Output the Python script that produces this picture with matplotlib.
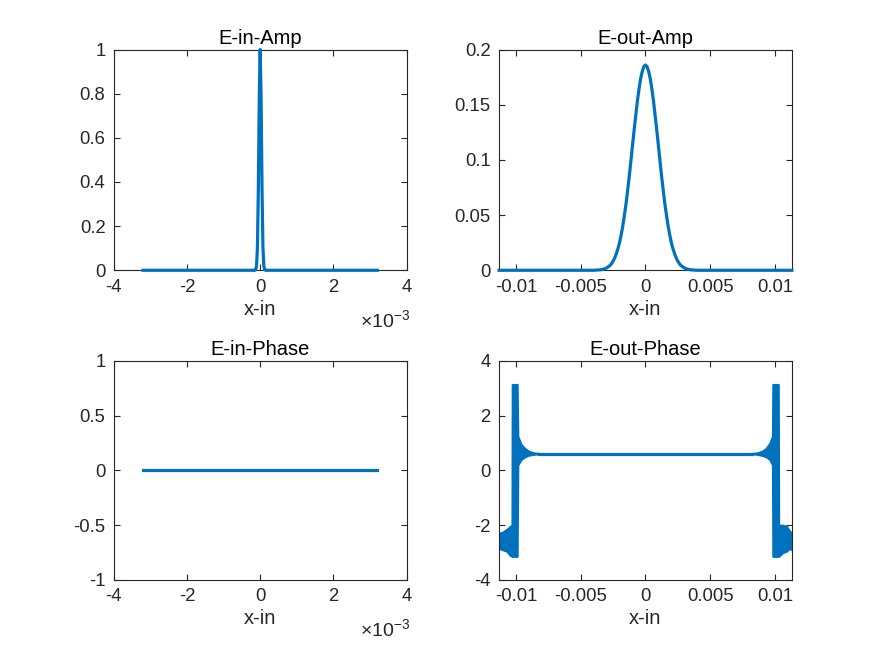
import matplotlib
matplotlib.use("Agg")
import matplotlib.pyplot as plt
import numpy as np

plt.rcParams["font.family"] = ["Liberation Sans", "DejaVu Sans"]
plt.rcParams["mathtext.fontset"] = "custom"
plt.rcParams["mathtext.rm"] = "Liberation Sans"
plt.rcParams["mathtext.it"] = "Liberation Sans"
plt.rcParams["axes.unicode_minus"] = False

BLUE = "#0072BD"
DARK = "#262626"

# input amplitude (x in units of 1e-3)
x_in = [-3.2, -0.15, -0.125, -0.1, -0.075, -0.05, -0.025, 0.0,
        0.025, 0.05, 0.075, 0.1, 0.125, 0.15, 3.2]
amp_in = [0.0, 0.0, 0.002, 0.018, 0.105, 0.37, 0.78, 1.0,
          0.78, 0.37, 0.105, 0.018, 0.002, 0.0, 0.0]

# input phase is flat zero
x_in_phase = [-3.2, 3.2]
phase_in = [0.0, 0.0]

# output amplitude, right half (x in units of 1e-3), mirrored for the left half
x_out_half = [0.0, 0.125, 0.25, 0.375, 0.5, 0.625, 0.75, 0.875, 1.0, 1.125,
              1.25, 1.375, 1.5, 1.625, 1.75, 1.875, 2.0, 2.125, 2.25, 2.375,
              2.5, 2.625, 2.75, 3.0, 3.25, 3.5, 4.0, 11.3]
amp_out_half = [0.186, 0.1845, 0.180, 0.1734, 0.164, 0.153, 0.140, 0.1269,
                0.113, 0.0988, 0.085, 0.0723, 0.060, 0.0497, 0.040, 0.0321,
                0.025, 0.0195, 0.015, 0.0111, 0.0082, 0.0059, 0.0042, 0.0021,
                0.00095, 0.0004, 0.0, 0.0]

# output phase: flat middle part
x_flat = [-8.2, 8.2]
phase_flat = [0.615, 0.615]

# output phase: noisy band envelopes near the edges (x in units of 1e-3)
x_left = [-11.3, -11.0, -10.7, -10.45, -10.3, -10.28, -9.9, -9.85,
          -9.6, -9.3, -9.0, -8.6, -8.2]
up_left = [-2.3, -2.25, -2.15, -2.05, -2.0, 3.14, 3.14, 1.25,
           0.95, 0.8, 0.7, 0.64, 0.62]
lo_left = [-2.85, -2.9, -2.95, -3.1, -3.14, -3.14, -3.14, 0.2,
           0.4, 0.5, 0.56, 0.59, 0.61]
x_right = [8.2, 8.6, 9.0, 9.3, 9.6, 9.8, 9.83, 10.25,
           10.28, 10.6, 10.9, 11.1, 11.3]
up_right = [0.62, 0.64, 0.7, 0.8, 1.0, 1.25, 3.14, 3.14,
            -2.0, -2.0, -2.05, -2.2, -2.3]
lo_right = [0.61, 0.59, 0.55, 0.5, 0.4, 0.2, -3.14, -3.14,
            -3.14, -3.0, -2.95, -2.85, -2.9]

fig = plt.figure(figsize=(8.75, 6.56), dpi=100)
positions = [[0.13, 0.588, 0.3347, 0.3365], [0.5703, 0.588, 0.3347, 0.3365],
             [0.13, 0.116, 0.3347, 0.3338], [0.5703, 0.116, 0.3347, 0.3338]]
axes = [fig.add_axes(p) for p in positions]


def style(ax, title):
    ax.set_title(title, fontsize=14.5, color="black", pad=4)
    ax.set_xlabel("x-in", fontsize=14.5, color=DARK, labelpad=3)
    ax.tick_params(direction="in", length=4, width=0.8, top=True, right=True,
                   labelsize=13.3, colors=DARK, pad=6)
    for s in ax.spines.values():
        s.set_color(DARK)
        s.set_linewidth(0.8)


def sci_label(ax):
    ax.text(1.012, -0.225, r"$\times10^{-3}$", transform=ax.transAxes,
            ha="right", va="center", fontsize=14, color=DARK)


# E-in-Amp
ax = axes[0]
ax.plot(np.array(x_in) * 1e-3, amp_in, color=BLUE, lw=2.3, clip_on=False, zorder=3)
ax.set_xlim(-4e-3, 4e-3)
ax.set_ylim(0, 1)
ax.set_xticks([-4e-3, -2e-3, 0, 2e-3, 4e-3])
ax.set_xticklabels(["-4", "-2", "0", "2", "4"])
ax.set_yticks([0, 0.2, 0.4, 0.6, 0.8, 1])
ax.set_yticklabels(["0", "0.2", "0.4", "0.6", "0.8", "1"])
style(ax, "E-in-Amp")
sci_label(ax)

# E-out-Amp
ax = axes[1]
xh = np.array(x_out_half) * 1e-3
x_out = np.concatenate([-xh[::-1], xh[1:]])
amp_out = np.concatenate([amp_out_half[::-1], amp_out_half[1:]])
ax.plot(x_out, amp_out, color=BLUE, lw=2.3, clip_on=False, zorder=3)
ax.set_xlim(-0.0113, 0.0113)
ax.set_ylim(0, 0.2)
ax.set_xticks([-0.01, -0.005, 0, 0.005, 0.01])
ax.set_xticklabels(["-0.01", "-0.005", "0", "0.005", "0.01"])
ax.set_yticks([0, 0.05, 0.1, 0.15, 0.2])
ax.set_yticklabels(["0", "0.05", "0.1", "0.15", "0.2"])
style(ax, "E-out-Amp")

# E-in-Phase
ax = axes[2]
ax.plot(np.array(x_in_phase) * 1e-3, phase_in, color=BLUE, lw=2.3)
ax.set_xlim(-4e-3, 4e-3)
ax.set_ylim(-1, 1)
ax.set_xticks([-4e-3, -2e-3, 0, 2e-3, 4e-3])
ax.set_xticklabels(["-4", "-2", "0", "2", "4"])
ax.set_yticks([-1, -0.5, 0, 0.5, 1])
ax.set_yticklabels(["-1", "-0.5", "0", "0.5", "1"])
style(ax, "E-in-Phase")
sci_label(ax)

# E-out-Phase
ax = axes[3]
ax.plot(np.array(x_flat) * 1e-3, phase_flat, color=BLUE, lw=2.3)
for xs, up, lo in [(x_left, up_left, lo_left), (x_right, up_right, lo_right)]:
    xs = np.array(xs) * 1e-3
    ax.fill_between(xs, lo, up, color=BLUE, lw=1.5, edgecolor=BLUE)
ax.set_xlim(-0.0113, 0.0113)
ax.set_ylim(-4, 4)
ax.set_xticks([-0.01, -0.005, 0, 0.005, 0.01])
ax.set_xticklabels(["-0.01", "-0.005", "0", "0.005", "0.01"])
ax.set_yticks([-4, -2, 0, 2, 4])
ax.set_yticklabels(["-4", "-2", "0", "2", "4"])
style(ax, "E-out-Phase")

fig.savefig("out.png", dpi=100, facecolor="white")
